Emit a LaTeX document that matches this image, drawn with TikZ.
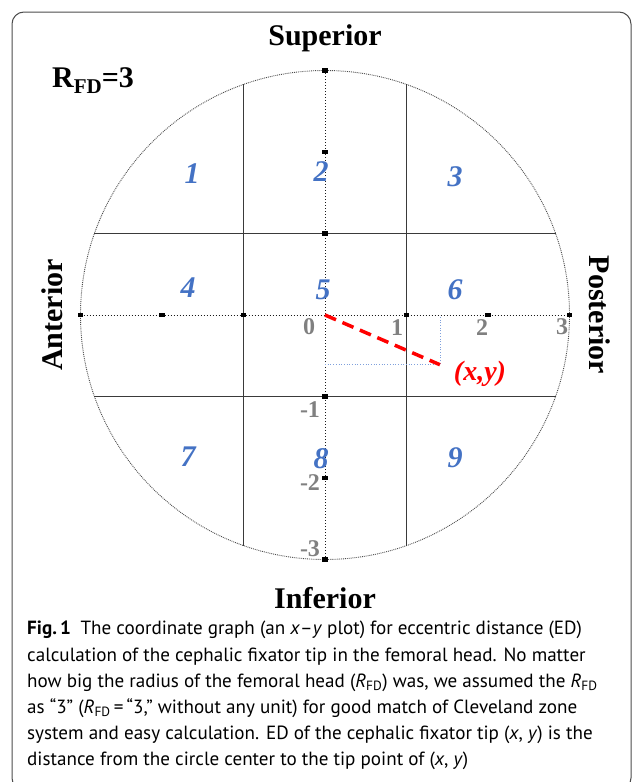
\documentclass[tikz,border=0pt]{standalone}
\usepackage{fontspec}
\setmainfont{Liberation Serif}
\newfontfamily\capfont{PT Sans}
\usetikzlibrary{positioning,calc}
\definecolor{Zone}{HTML}{4472C4}
\definecolor{Num}{HTML}{808080}
\definecolor{Tip}{HTML}{FF0000}
\definecolor{Proj}{HTML}{7FA0DC}
\definecolor{Grid}{HTML}{3A3A3A}

\begin{document}
\begin{tikzpicture}[x=1pt,y=-1pt,
  side/.style={font=\bfseries\fontsize{30}{30}\selectfont,inner sep=0pt},
  zone/.style={font=\bfseries\itshape\fontsize{30}{30}\selectfont,text=Zone,inner sep=0pt},
  axnum/.style={font=\bfseries\fontsize{24}{24}\selectfont,text=Num,inner sep=0pt},
  tickmark/.style={fill=black,inner sep=0pt,minimum width=5.5pt,minimum height=4.5pt},
  gridline/.style={draw=Grid,line width=1.1pt},
  axisline/.style={draw=black!90,line width=1pt,dotted}]
  \useasboundingbox (0,0) rectangle (634,782);
  \draw[black!70,line width=1pt,rounded corners=12pt] (12,12) rectangle (631,790);

  % femoral head, R_FD = 3
  \begin{scope}[shift={(325,315)},x=81.5pt,y=81.5pt]
    \coordinate (O) at (0,0);
    \coordinate (P) at (1.41,-0.61);
    \draw[black!70,densely dotted,line width=0.9pt] (O) circle (3);
    % Cleveland zones
    \foreach \k in {-1,1}{
      \draw[gridline] ({\k},{-sqrt(8)}) -- ({\k},{sqrt(8)});
      \draw[gridline] ({-sqrt(8)},{\k}) -- ({sqrt(8)},{\k});
    }
    % x-y axes
    \draw[axisline] (-3,0) -- (3,0);
    \draw[axisline] (0,-3) -- (0,3);
    \foreach \t in {-3,-2,-1,1,2,3}{
      \node[tickmark] at (\t,0) {};
      \node[tickmark] at (0,\t) {};
    }
    % tip
    \draw[Proj,dotted,line width=0.7pt] (O |- P) -- (P) -- (P |- O);
    \draw[Tip,line width=3.5pt,dash pattern=on 12pt off 7pt] (O) -- (P);
  \end{scope}

  \foreach \n/\px/\py in {1/192/174,2/321/172,3/455/177,4/188/288,5/323/290,
                          6/455/290,7/188/457,8/321/459,9/455/458}
    \node[zone] (z\n) at (\px,\py) {\n};

  \foreach \n/\lab/\px/\py in {x0/0/309/327,x1/1/397/328,x2/2/482/328,x3/3/562/327,
                               y1/-1/310/410,y2/-2/310/483,y3/-3/310/549}
    \node[axnum] (\n) at (\px,\py) {\lab};

  \node[font=\bfseries\itshape\fontsize{28}{28}\selectfont,text=Tip,inner sep=0pt]
    (xy) at (480,374) {(x,y)};

  \node[side] (sup) at (325,38) {Superior};
  \node[side] (inf) at (325,598) {Inferior};
  \node[side,rotate=90] (ant) at (52,315) {Anterior};
  \node[side,rotate=-90] (post) at (600,315) {Posterior};
  \node[font=\bfseries\fontsize{30}{30}\selectfont,inner sep=0pt,anchor=base west]
    (rfd) at (52,87) {R{\fontsize{21}{21}\selectfont\raisebox{-6pt}{FD}}=3};

  \node[anchor=north west,align=left,inner sep=0pt,
        font=\capfont\fontsize{19.1}{26.2}\selectfont] (cap) at (27,621)
    {\textbf{Fig.\,1}\enspace The coordinate graph (an \textit{x}–\textit{y} plot) for eccentric distance (ED)\\
     calculation of the cephalic fixator tip in the femoral head. No matter\\
     how big the radius of the femoral head (\textit{R}\textsubscript{FD}) was, we assumed the \textit{R}\textsubscript{FD}\\
     as “3” (\textit{R}\textsubscript{FD}\,=\,“3,” without any unit) for good match of Cleveland zone\\
     system and easy calculation. ED of the cephalic fixator tip (\textit{x}, \textit{y}) is the\\
     distance from the circle center to the tip point of (\textit{x}, \textit{y})};
\end{tikzpicture}
\end{document}
